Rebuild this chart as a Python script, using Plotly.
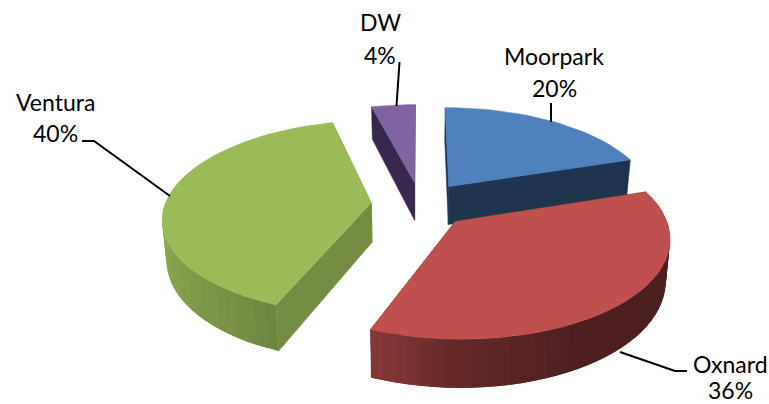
import numpy as np
import plotly.graph_objects as go

names = ["Moorpark", "Oxnard", "Ventura", "DW"]
values = [20, 36, 40, 4]
top_colours = ["#4F81BD", "#C0504D", "#9BBB59", "#8064A2"]
face_colours = ["#1F354F", "#5A2320", "#748C43", "#38284E"]

# back to front, so nearer slices paint over farther ones
DRAW_ORDER = [3, 0, 2, 1]

WIDTH = 769
HEIGHT = 404

# perspective of the pie plane, horizon sits above the page
VANISH_X = 420
VANISH_Y = -450
CENTRE_X = 0.0008
CENTRE_W = 0.001528
RADIUS_X = 0.315
RADIUS_W = 0.000222
EXPLODE = 0.24

# rim brightness against the sine of the angle round the pie
SHADE_SINE = [-1.0, -0.37, 0.0, 0.5, 1.0]
SHADE_LEVEL = [0.9, 0.72, 0.52, 0.4, 0.4]


def project(x_plane, w_plane):
    return VANISH_X + x_plane / w_plane, VANISH_Y + 1 / w_plane


def drop(sx, sy):
    # lower edge of the slice under a point on its top
    return sx - (sx - VANISH_X) * 0.017, sy + 25 + 0.07 * sy


def darken(colour, level):
    r, g, b = [int(colour[i : i + 2], 16) for i in (1, 3, 5)]
    return f"rgb({r * level:.0f},{g * level:.0f},{b * level:.0f})"


def add_poly(fig, xs, ys, colour, edge=0.6):
    fig.add_trace(
        go.Scatter(
            x=xs,
            y=ys,
            mode="lines",
            fill="toself",
            fillcolor=colour,
            line=dict(color=colour, width=edge),
            hoverinfo="skip",
        )
    )


fig = go.Figure()

ends = np.cumsum(values) / np.sum(values) * 2 * np.pi
starts = np.concatenate([[0], ends[:-1]])

for i in DRAW_ORDER:
    mid = (starts[i] + ends[i]) / 2
    apex_x = CENTRE_X + EXPLODE * RADIUS_X * np.sin(mid)
    apex_w = CENTRE_W + EXPLODE * RADIUS_W * np.cos(mid)
    steps = max(int(np.degrees(ends[i] - starts[i]) / 3), 6)
    angles = np.linspace(starts[i], ends[i], steps + 1)
    rim_x, rim_y = project(
        apex_x + RADIUS_X * np.sin(angles), apex_w + RADIUS_W * np.cos(angles)
    )
    low_x, low_y = drop(rim_x, rim_y)
    ax, ay = project(apex_x, apex_w)
    bx, by = drop(ax, ay)

    # flat cut faces
    for k in (0, -1):
        add_poly(
            fig,
            [ax, rim_x[k], low_x[k], bx, ax],
            [ay, rim_y[k], low_y[k], by, ay],
            face_colours[i],
        )

    # curved rim, each band runs under the next one so no seams show
    for k in range(steps):
        # the far side of the rim faces away
        if np.cos(angles[k]) > 0.3:
            continue
        shade = np.interp(np.sin(angles[k]), SHADE_SINE, SHADE_LEVEL)
        n = min(k + 2, steps)
        xs = np.concatenate([rim_x[k : n + 1], low_x[k : n + 1][::-1]])
        ys = np.concatenate([rim_y[k : n + 1], low_y[k : n + 1][::-1]])
        add_poly(fig, xs, ys, darken(top_colours[i], shade), edge=0)

    # top face
    add_poly(
        fig,
        np.concatenate([[ax], rim_x, [ax]]),
        np.concatenate([[ay], rim_y, [ay]]),
        top_colours[i],
    )

# leader lines
leader_x = [[551, 551], [620, 675, 687], [82, 94, 170], [399.5, 396.5]]
leader_y = [[103, 122], [352, 371, 371], [141, 141, 196], [62, 106]]
for lx, ly in zip(leader_x, leader_y):
    fig.add_trace(
        go.Scatter(
            x=lx,
            y=ly,
            mode="lines",
            line=dict(color="black", width=2),
            hoverinfo="skip",
        )
    )

# data labels, name over percentage
label_x = [554, 730, 55, 380]
label_name_y = [56, 364, 102, 22]
label_pct_y = [88, 390, 133, 55]
for i, name in enumerate(names):
    for text, y in ((name, label_name_y[i]), (f"{values[i]}%", label_pct_y[i])):
        fig.add_annotation(
            x=label_x[i],
            y=y,
            text=text,
            showarrow=False,
            font=dict(family="Lato", size=23, color="black"),
        )

fig.update_layout(
    showlegend=False,
    autosize=False,
    width=WIDTH,
    height=HEIGHT,
    margin=dict(l=0, r=0, t=0, b=0),
    paper_bgcolor="white",
    plot_bgcolor="white",
    xaxis=dict(visible=False, range=[0, WIDTH], fixedrange=True),
    yaxis=dict(visible=False, range=[HEIGHT, 0], fixedrange=True),
)

fig.write_html(
    "out.html",
    config=dict(displayModeBar=False),
    post_script="document.body.style.margin = '0';",
)
